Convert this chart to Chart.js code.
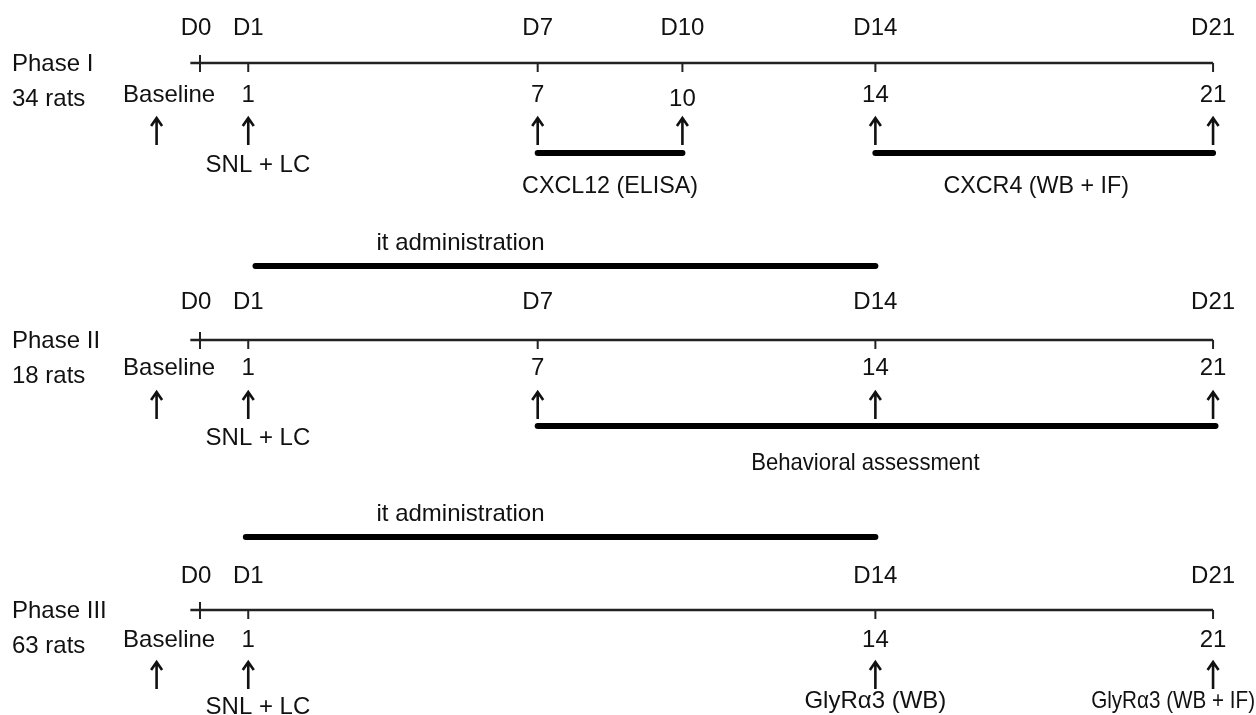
<!DOCTYPE html>
<html>
<head>
<meta charset="utf-8">
<script src="https://cdn.jsdelivr.net/npm/chart.js@4.4.1/dist/chart.umd.min.js"></script>
<style>
  html, body { margin: 0; padding: 0; background: #fff; }
  #wrap { width: 1256px; height: 715px; position: relative; }
</style>
</head>
<body>
<div id="wrap"><canvas id="timeline"></canvas></div>
<script>
// days marked on each phase's time axis
var phaseNames = ['Phase I', 'Phase II', 'Phase III'];
var phaseRats = ['34 rats', '18 rats', '63 rats'];
var phaseDays = [
  [0, 1, 7, 10, 14, 21],
  [0, 1, 7, 14, 21],
  [0, 1, 14, 21]
];
// days with a sampling arrow under the axis (0 = baseline arrow)
var arrowDays = [
  [0, 1, 7, 10, 14, 21],
  [0, 1, 7, 14, 21],
  [0, 1, 14, 21]
];
// measurement periods (thick bars) below each axis
var phase1Periods = [[7, 10], [14, 21]];
var phase1PeriodLabels = ['CXCL12 (ELISA)', 'CXCR4 (WB + IF)'];
var phase2Periods = [[7, 21]];
var phase2PeriodLabels = ['Behavioral assessment'];
var phase3Samples = [14, 21];
var phase3SampleLabels = ['GlyR\u03b13 (WB)', 'GlyR\u03b13 (WB + IF)'];
// it administration window (between phases)
var itAdminDays = [1, 14];
var itAdminLabel = 'it administration';
var surgeryLabel = 'SNL + LC';
var baselineLabel = 'Baseline';

// layout (pixel rows of the drawing, not data)
var rowY = [63, 340, 610];
var itRowY = [266, 537];
var FONT = '24px "Liberation Sans", Arial, sans-serif';

function seg(x1, x2, y) {
  return [{x: x1, y: y}, {x: x2, y: y}];
}

var datasets = [];
// main axis lines
rowY.forEach(function (y) {
  datasets.push({ data: seg(-0.2, 21, y), borderColor: '#222', borderWidth: 2.6 });
});
// tick marks on the axis
rowY.forEach(function (y, i) {
  var pts = [];
  phaseDays[i].forEach(function (d) {
    var top = d === 0 ? y - 8 : y;
    pts.push({x: d, y: top}, {x: d, y: y + 9}, {x: d, y: null});
  });
  datasets.push({ data: pts, borderColor: '#222', borderWidth: 2, spanGaps: false });
});
// thick period bars
phase1Periods.forEach(function (p) {
  datasets.push({ data: seg(p[0], p[1], rowY[0] + 90), borderColor: '#000', borderWidth: 6, borderCapStyle: 'round' });
});
phase2Periods.forEach(function (p) {
  datasets.push({ data: seg(p[0], p[1] + 0.05, rowY[1] + 86), borderColor: '#000', borderWidth: 6, borderCapStyle: 'round' });
});
datasets.push({ data: seg(itAdminDays[0] + 0.15, itAdminDays[1], itRowY[0]), borderColor: '#000', borderWidth: 6, borderCapStyle: 'round' });
datasets.push({ data: seg(itAdminDays[0] - 0.05, itAdminDays[1], itRowY[1]), borderColor: '#000', borderWidth: 6, borderCapStyle: 'round' });

datasets.forEach(function (ds) {
  ds.showLine = true;
  ds.pointRadius = 0;
  ds.fill = false;
});

function txt(ctx, s, x, y, align, sx) {
  ctx.save();
  ctx.translate(x, y);
  ctx.scale(sx || 1, 1);
  ctx.textAlign = align || 'center';
  ctx.textBaseline = 'middle';
  ctx.fillText(s, 0, 0);
  ctx.restore();
}

function arrow(ctx, x, yTop, yBot) {
  ctx.beginPath();
  ctx.moveTo(x, yBot);
  ctx.lineTo(x, yTop + 1);
  ctx.moveTo(x - 5.5, yTop + 8);
  ctx.lineTo(x, yTop);
  ctx.lineTo(x + 5.5, yTop + 8);
  ctx.stroke();
}

var labelsPlugin = {
  id: 'timelineLabels',
  afterDatasetsDraw: function (chart) {
    var ctx = chart.ctx;
    var xs = chart.scales.x;
    var px = function (d) { return xs.getPixelForValue(d); };
    ctx.save();
    ctx.fillStyle = '#111';
    ctx.strokeStyle = '#111';
    ctx.lineWidth = 2.6;
    ctx.lineCap = 'butt';
    ctx.font = FONT;

    rowY.forEach(function (y, i) {
      txt(ctx, phaseNames[i], 12, y + 1, 'left');
      txt(ctx, phaseRats[i], 12, y + 36, 'left');
      var dY = [y - 35, y - 38, y - 34][i];
      var nY = [y + 32, y + 28, y + 30][i];
      phaseDays[i].forEach(function (d) {
        txt(ctx, 'D' + d, px(d) - (d === 0 ? 4 : 0), dY, 'center');
        if (d === 0) {
          txt(ctx, baselineLabel, px(-0.64), nY, 'center');
        } else {
          txt(ctx, String(d), px(d), nY + (d === 10 ? 4 : 0), 'center');
        }
      });
      var aTop = [y + 55, y + 52, y + 52][i];
      arrowDays[i].forEach(function (d) {
        var x = d === 0 ? px(-0.9) : px(d);
        arrow(ctx, x, aTop, aTop + 27);
      });
      var sY = [y + 102, y + 98, y + 97][i];
      txt(ctx, surgeryLabel, px(1.2), sY, 'center');
    });

    phase1Periods.forEach(function (p, k) {
      txt(ctx, phase1PeriodLabels[k], px((p[0] + p[1]) / 2) - (k === 1 ? 8 : 0), rowY[0] + 123, 'center', 0.97);
    });
    phase2Periods.forEach(function (p, k) {
      txt(ctx, phase2PeriodLabels[k], px((p[0] + p[1]) / 2) - 10, rowY[1] + 123, 'center', 0.92);
    });
    phase3Samples.forEach(function (d, k) {
      if (k === 0) {
        txt(ctx, phase3SampleLabels[k], px(d), rowY[2] + 91, 'center');
      } else {
        txt(ctx, phase3SampleLabels[k], 1255, rowY[2] + 91, 'right', 0.86);
      }
    });
    itRowY.forEach(function (y) {
      txt(ctx, itAdminLabel, px(5.4), y - 23, 'center');
    });
    ctx.restore();
  }
};

var ctx = document.getElementById('timeline').getContext('2d');
var chart = new Chart(ctx, {
  type: 'scatter',
  data: { datasets: datasets },
  options: {
    responsive: true,
    maintainAspectRatio: false,
    animation: false,
    layout: { padding: 0 },
    plugins: { legend: { display: false }, tooltip: { enabled: false } },
    scales: {
      x: { type: 'linear', min: -4.146, max: 21.89, display: false },
      y: { type: 'linear', min: 0, max: 715, reverse: true, display: false }
    }
  },
  plugins: [labelsPlugin]
});
</script>
</body>
</html>
